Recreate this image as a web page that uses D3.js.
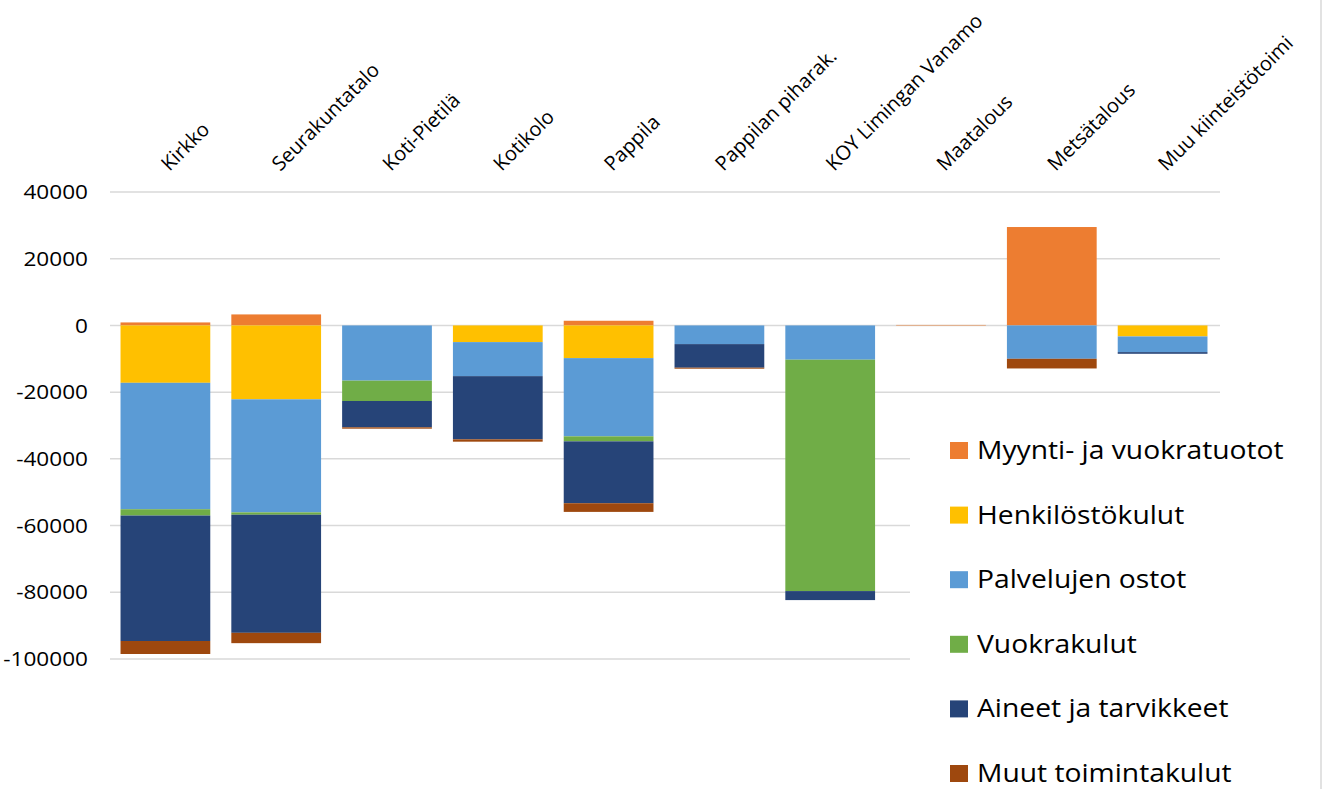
<!DOCTYPE html>
<html>
<head>
<meta charset="utf-8">
<script src="https://cdn.jsdelivr.net/npm/d3@7"></script>
<style>
  body { margin: 0; background: #fff; }
  text { font-family: "Open Sans", "Noto Sans", sans-serif; fill: #000; }
</style>
</head>
<body>
<div id="container"></div>
<script>
/* DATA */
const categories = ["Kirkko", "Seurakuntatalo", "Koti-Pietilä", "Kotikolo", "Pappila",
  "Pappilan piharak.", "KOY Limingan Vanamo", "Maatalous", "Metsätalous", "Muu kiinteistötoimi"];

const seriesNames = ["Myynti- ja vuokratuotot", "Henkilöstökulut", "Palvelujen ostot",
  "Vuokrakulut", "Aineet ja tarvikkeet", "Muut toimintakulut"];

const myynti =      [900, 3300, 0, 0, 1400, 0, 0, 150, 29500, 0];
const henkilosto =  [-17200, -22150, 0, -5000, -9800, 0, 0, 0, 0, -3300];
const palvelut =    [-37900, -33900, -16550, -10200, -23450, -5600, -10270, 0, -10000, -4700];
const vuokra =      [-1900, -700, -6100, 0, -1500, 0, -69370, 0, 0, 0];
const aineet =      [-37600, -35400, -7900, -18950, -18550, -7070, -2700, 0, 0, -500];
const muut =        [-3900, -3100, -400, -700, -2600, -300, 0, 0, -2900, 0];

const yTicks = [40000, 20000, 0, -20000, -40000, -60000, -80000, -100000];

/* CONSTANTS */
const width = 1327, height = 789;
const colors = ["#ED7D31", "#FFC000", "#5B9BD5", "#70AD47", "#264478", "#9E480E"];
const stretch = 1.13; // text in the original is a bit wider than tall

const allSeries = [myynti, henkilosto, palvelut, vuokra, aineet, muut];
const table = categories.map((c, i) => {
  const row = { cat: c };
  seriesNames.forEach((s, j) => row[s] = allSeries[j][i]);
  return row;
});

const svg = d3.select("#container")
  .append("svg")
  .attr("width", width)
  .attr("height", height);

const x = d3.scaleBand()
  .domain(categories)
  .range([110, 1218])
  .paddingInner(0.19)
  .paddingOuter(0.095);

const y = d3.scaleLinear()
  .domain([-100000, 40000])
  .range([659, 192]);

// gridlines
svg.selectAll("line.grid")
  .data(yTicks)
  .join("line")
  .attr("class", "grid")
  .attr("x1", 110)
  .attr("x2", 1220)
  .attr("y1", d => y(d))
  .attr("y2", d => y(d))
  .attr("stroke", "#D9D9D9")
  .attr("stroke-width", 1.5);

// y tick labels
svg.selectAll("text.ytick")
  .data(yTicks)
  .join("text")
  .attr("class", "ytick")
  .attr("transform", d => `translate(88, ${y(d)}) scale(${stretch}, 1)`)
  .attr("dy", "0.36em")
  .attr("text-anchor", "end")
  .attr("font-size", 20)
  .text(d => d);

// stacked bars
const stack = d3.stack()
  .keys(seriesNames)
  .offset(d3.stackOffsetDiverging);

const stacked = stack(table);

svg.selectAll("g.series")
  .data(stacked)
  .join("g")
  .attr("class", "series")
  .attr("fill", (d, i) => colors[i])
  .selectAll("rect")
  .data(d => d)
  .join("rect")
  .attr("x", d => x(d.data.cat))
  .attr("width", x.bandwidth())
  .attr("y", d => y(Math.max(d[0], d[1])))
  .attr("height", d => Math.abs(y(d[0]) - y(d[1])));

// category labels, rotated
svg.selectAll("text.cat")
  .data(categories)
  .join("text")
  .attr("class", "cat")
  .attr("font-size", 20)
  .attr("transform", d => `translate(${x(d) + x.bandwidth() / 2 + 4}, 172) rotate(-45)`)
  .text(d => d);

// legend
svg.append("rect")
  .attr("x", 910)
  .attr("y", 415)
  .attr("width", 410)
  .attr("height", 380)
  .attr("fill", "#fff");

const legend = svg.selectAll("g.legend")
  .data(seriesNames)
  .join("g")
  .attr("class", "legend")
  .attr("transform", (d, i) => `translate(950, ${450 + i * 64.6})`);

legend.append("rect")
  .attr("x", 0)
  .attr("y", -8)
  .attr("width", 18)
  .attr("height", 17)
  .attr("fill", (d, i) => colors[i]);

legend.append("text")
  .attr("transform", `translate(27, 0) scale(${stretch}, 1)`)
  .attr("dy", "0.36em")
  .attr("font-size", 25)
  .text(d => d);

// right border
svg.append("line")
  .attr("x1", 1321).attr("x2", 1321)
  .attr("y1", 0).attr("y2", height)
  .attr("stroke", "#D9D9D9")
  .attr("stroke-width", 1.5);
</script>
</body>
</html>
